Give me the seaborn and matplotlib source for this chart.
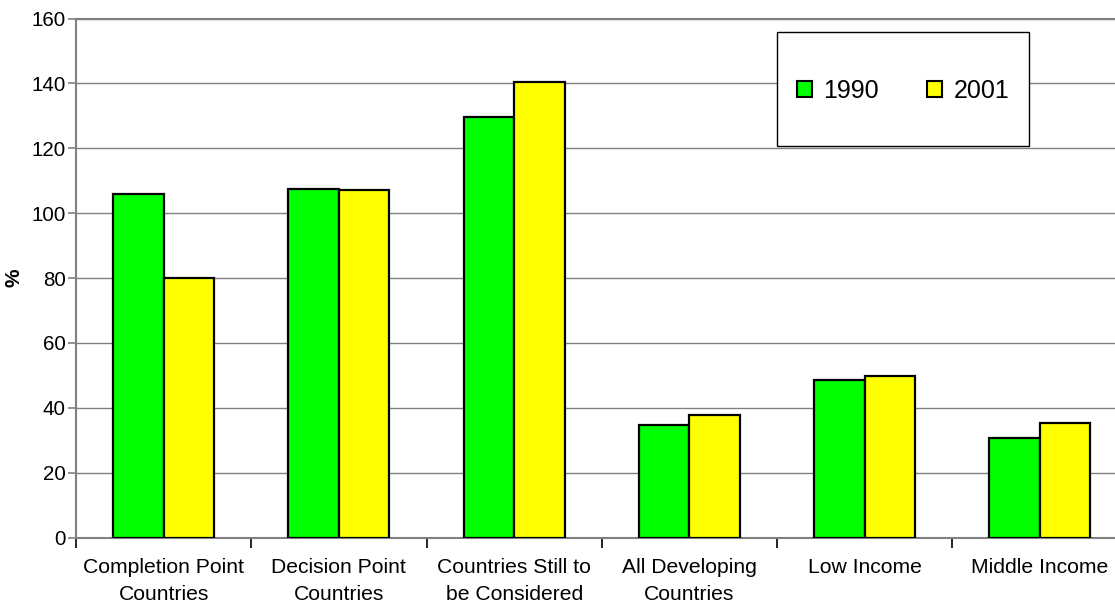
import matplotlib
matplotlib.use("Agg")
import matplotlib.pyplot as plt
from matplotlib.patches import Rectangle
from matplotlib.ticker import FixedLocator, MultipleLocator
import pandas as pd
import seaborn as sns

# Debt ratios (%) by country group
categories = [
    "Completion Point\nCountries",
    "Decision Point\nCountries",
    "Countries Still to\nbe Considered",
    "All Developing\nCountries",
    "Low Income",
    "Middle Income",
]
values_1990 = [105.9, 107.3, 129.6, 34.6, 48.5, 30.8]
values_2001 = [80.0, 107.1, 140.5, 37.8, 49.7, 35.4]
years = ["1990", "2001"]
colors = ["#00FF00", "#FFFF00"]

df = pd.DataFrame({
    "group": categories * 2,
    "value": values_1990 + values_2001,
    "year": [years[0]] * len(categories) + [years[1]] * len(categories),
})

sns.set_theme(style="white")
plt.rcParams["font.family"] = ["Liberation Sans", "DejaVu Sans"]
plt.rcParams["text.color"] = "black"
plt.rcParams["axes.labelcolor"] = "black"

fig = plt.figure(figsize=(11.15, 6.02), dpi=100)
ax = fig.add_axes([76 / 1115, 64.5 / 602, 1051.5 / 1115, 519 / 602])

sns.barplot(
    data=df, x="group", y="value", hue="year", order=categories,
    hue_order=years, palette=colors, saturation=1, width=0.576,
    edgecolor="black", linewidth=1.6, ax=ax, legend=False, zorder=3,
)

grid_grey = "#808080"
ax.set_ylim(0, 160)
ax.set_xlim(-0.5, len(categories) - 0.5)
ax.yaxis.set_major_locator(MultipleLocator(20))
ax.yaxis.grid(True, color=grid_grey, linewidth=1.0, zorder=0)
ax.xaxis.grid(False)

for side in ("left", "bottom", "top"):
    ax.spines[side].set_visible(True)
    ax.spines[side].set_color(grid_grey)
    ax.spines[side].set_linewidth(1.5)
ax.spines["right"].set_visible(False)

ax.set_xlabel("")
ax.set_ylabel("%", fontsize=15, fontweight="bold", color="black")
ax.yaxis.set_label_coords(-0.0495, 0.5)

# category labels sit between boundary tick marks
ax.xaxis.set_minor_locator(FixedLocator([i - 0.5 for i in range(len(categories) + 1)]))
ax.tick_params(axis="x", which="major", length=0, pad=15, labelsize=15.2,
               labelcolor="black")
ax.tick_params(axis="x", which="minor", length=7, width=1.2, color="black", direction="out")
ax.tick_params(axis="y", which="major", length=6, width=1.2, color=grid_grey,
               direction="out", labelsize=14.8, pad=1.5, labelcolor="black")
ax.tick_params(bottom=True, left=True, which="both")
for lbl in ax.get_xticklabels():
    lbl.set_linespacing(1.5)

# legend with a plain square frame
box = Rectangle((777 / 1115, 1 - 146 / 602), 252 / 1115, 114 / 602,
                transform=fig.transFigure, facecolor="white",
                edgecolor="black", linewidth=1.0, zorder=5)
fig.patches.append(box)
handles = [Rectangle((0, 0), 1, 1, facecolor=c, edgecolor="black", linewidth=1.5)
           for c in colors]
leg = fig.legend(
    handles, years, loc="center",
    bbox_to_anchor=((777 + 126) / 1115, 1 - 91 / 602),
    bbox_transform=fig.transFigure, ncol=2, frameon=False, fontsize=18,
    handlelength=0.62, handleheight=0.62, handletextpad=0.45,
    columnspacing=1.9,
)
for t in leg.get_texts():
    t.set_color("black")
leg.set_zorder(6)

fig.savefig("out.png", dpi=100)
